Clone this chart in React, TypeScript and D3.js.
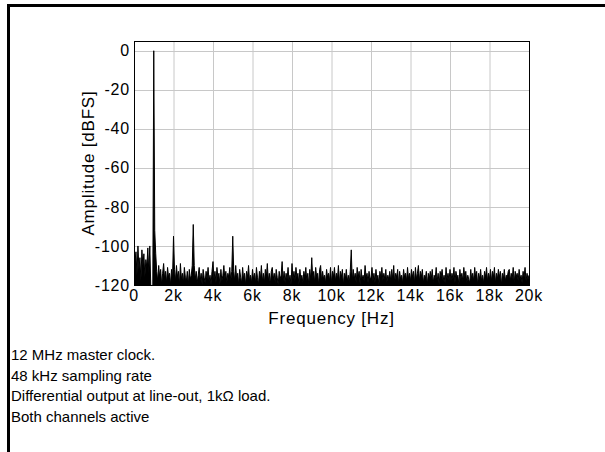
import React from "react";
import * as d3 from "d3";

// Spectrum values, 50 Hz spacing from 0 Hz to 20 kHz (dBFS), one array per kHz
const seg0k = [-97, -108, -103, -115, -100, -112, -106, -118, -102, -110, -104, -116, -107, -111, -101, -114, -100, -121, -125, -126];
const seg1k = [0, -92, -104, -113, -118, -110, -116, -112, -120, -114, -109, -117, -113, -119, -111, -116, -114, -120, -112, -117];
const seg2k = [-95, -112, -118, -110, -116, -113, -120, -109, -117, -114, -119, -111, -116, -118, -113, -120, -112, -117, -115, -110];
const seg3k = [-89, -110, -117, -113, -119, -115, -111, -118, -114, -120, -112, -116, -119, -113, -117, -111, -118, -115, -120, -113];
const seg4k = [-108, -117, -113, -119, -111, -116, -114, -120, -112, -118, -115, -110, -117, -113, -119, -114, -116, -111, -118, -113];
const seg5k = [-95, -113, -118, -110, -117, -114, -120, -112, -116, -119, -111, -117, -114, -120, -113, -116, -110, -118, -115, -119];
const seg6k = [-112, -117, -114, -119, -111, -116, -120, -113, -117, -110, -118, -114, -119, -112, -116, -109, -118, -114, -120, -113];
const seg7k = [-111, -117, -114, -119, -112, -116, -120, -113, -117, -115, -108, -118, -113, -119, -114, -117, -111, -118, -115, -120];
const seg8k = [-109, -117, -113, -118, -111, -116, -114, -120, -112, -117, -115, -119, -113, -116, -111, -118, -114, -120, -112, -117];
const seg9k = [-106, -117, -113, -119, -111, -116, -114, -120, -112, -110, -118, -113, -117, -115, -119, -112, -116, -114, -118, -111];
const seg10k = [-119, -113, -116, -111, -118, -114, -117, -110, -119, -113, -116, -112, -120, -114, -117, -112, -118, -115, -119, -113];
const seg11k = [-102, -118, -112, -117, -114, -119, -111, -116, -113, -120, -112, -117, -115, -118, -110, -116, -114, -119, -113, -117];
const seg12k = [-116, -111, -118, -114, -119, -112, -117, -115, -120, -113, -116, -111, -118, -114, -117, -112, -119, -115, -117, -113];
const seg13k = [-118, -112, -117, -110, -119, -114, -116, -112, -120, -113, -117, -115, -119, -112, -116, -114, -118, -111, -117, -114];
const seg14k = [-118, -112, -116, -113, -119, -111, -117, -114, -110, -118, -113, -116, -112, -119, -115, -117, -113, -120, -114, -117];
const seg15k = [-113, -117, -112, -119, -115, -117, -111, -118, -114, -120, -113, -116, -112, -118, -115, -119, -111, -117, -114, -118];
const seg16k = [-112, -118, -114, -117, -111, -119, -113, -116, -115, -120, -112, -117, -114, -118, -111, -116, -113, -119, -115, -117];
const seg17k = [-119, -112, -117, -114, -118, -111, -116, -113, -120, -114, -117, -112, -118, -115, -119, -113, -116, -111, -118, -114];
const seg18k = [-117, -112, -118, -113, -116, -111, -119, -114, -117, -112, -116, -113, -120, -114, -117, -112, -118, -115, -116, -113];
const seg19k = [-112, -118, -114, -117, -111, -119, -113, -116, -114, -118, -112, -117, -115, -119, -113, -116, -111, -118, -114, -117];
const seg20k = [-115];

const amplitudes: number[] = [
  ...seg0k, ...seg1k, ...seg2k, ...seg3k, ...seg4k, ...seg5k, ...seg6k,
  ...seg7k, ...seg8k, ...seg9k, ...seg10k, ...seg11k, ...seg12k, ...seg13k,
  ...seg14k, ...seg15k, ...seg16k, ...seg17k, ...seg18k, ...seg19k, ...seg20k,
];
const freqStep = 50;

const xTicks = [0, 2000, 4000, 6000, 8000, 10000, 12000, 14000, 16000, 18000, 20000];
const xTickLabels = ["0", "2k", "4k", "6k", "8k", "10k", "12k", "14k", "16k", "18k", "20k"];
const yTicks = [0, -20, -40, -60, -80, -100, -120];

const notes = [
  "12 MHz master clock.",
  "48 kHz sampling rate",
  "Differential output at line-out, 1k\u03A9 load.",
  "Both channels active",
];

const W = 605;
const H = 452;
const plot = { left: 134, right: 529, top: 41, bottom: 285 };
const font = "'Liberation Sans', Arial, Helvetica, sans-serif";

export default function App() {
  const x = d3.scaleLinear().domain([0, 20000]).range([plot.left, plot.right]);
  const y = d3.scaleLinear().domain([-120, 5]).range([plot.bottom, plot.top]);
  const pts = amplitudes.map((a, i) => [i * freqStep, a] as [number, number]);
  const line = d3
    .line<[number, number]>()
    .x((d) => x(d[0]))
    .y((d) => y(d[1]));
  const area = d3
    .area<[number, number]>()
    .x((d) => x(d[0]))
    .y0(y(-125))
    .y1((d) => y(d[1]));

  return (
    <svg
      width={W}
      height={H}
      style={{ position: "absolute", left: 0, top: 0, background: "#fff" }}
      fontFamily={font}
    >
      <rect x={0} y={0} width={W} height={H} fill="#fff" />
      {/* outer frame */}
      <line x1={7} y1={5.5} x2={W} y2={5.5} stroke="#000" strokeWidth={3} />
      <line x1={8.5} y1={4} x2={8.5} y2={H} stroke="#000" strokeWidth={3} />

      <defs>
        <clipPath id="plotclip">
          <rect x={plot.left} y={plot.top} width={plot.right - plot.left} height={plot.bottom - plot.top} />
        </clipPath>
      </defs>

      {/* grid */}
      {xTicks.slice(1, -1).map((t) => (
        <line key={"gx" + t} x1={x(t) + 0.5} x2={x(t) + 0.5} y1={plot.top} y2={plot.bottom} stroke="#c8c8c8" strokeWidth={1} />
      ))}
      {yTicks.slice(0, -1).map((t) => (
        <line key={"gy" + t} x1={plot.left} x2={plot.right} y1={Math.round(y(t)) + 0.5} y2={Math.round(y(t)) + 0.5} stroke="#c8c8c8" strokeWidth={1} />
      ))}

      {/* spectrum */}
      <g clipPath="url(#plotclip)">
        <path d={area(pts) ?? ""} fill="#000" stroke="none" />
        <path d={line(pts) ?? ""} fill="none" stroke="#000" strokeWidth={1} />
      </g>

      {/* plot frame */}
      <rect x={plot.left + 0.5} y={plot.top + 0.5} width={plot.right - plot.left} height={plot.bottom - plot.top} fill="none" stroke="#000" strokeWidth={1} />

      {/* y tick labels */}
      {yTicks.map((t) => (
        <text key={"yt" + t} x={plot.left - 4} y={y(t)} dy="0.35em" textAnchor="end" fontSize={16} letterSpacing={0.8} fill="#000">
          {t}
        </text>
      ))}
      {/* x tick labels */}
      {xTicks.map((t, i) => (
        <text key={"xt" + t} x={x(t)} y={plot.bottom + 16} textAnchor="middle" fontSize={16} letterSpacing={0.8} fill="#000">
          {xTickLabels[i]}
        </text>
      ))}

      {/* axis titles */}
      <text x={(plot.left + plot.right) / 2} y={plot.bottom + 39} textAnchor="middle" fontSize={17} letterSpacing={0.8} fill="#000">
        Frequency [Hz]
      </text>
      <text
        transform={`translate(${plot.left - 40}, ${(plot.top + plot.bottom) / 2}) rotate(-90)`}
        textAnchor="middle"
        fontSize={17}
        letterSpacing={0.8}
        fill="#000"
      >
        Amplitude [dBFS]
      </text>

      {/* notes */}
      {notes.map((n, i) => (
        <text key={"n" + i} x={11} y={360 + i * 20.7} fontSize={15} fill="#000">
          {n}
        </text>
      ))}
    </svg>
  );
}
